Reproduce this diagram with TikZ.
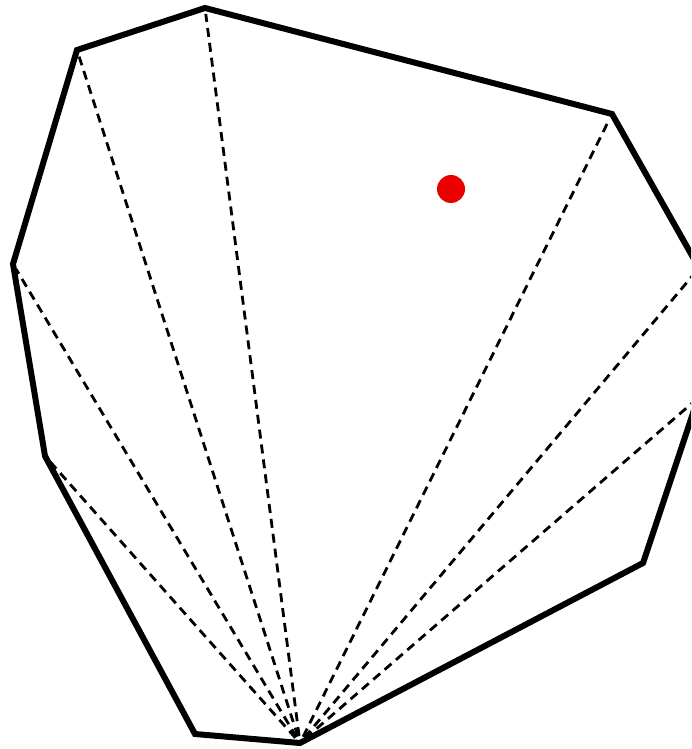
\documentclass[tikz,border=0pt]{standalone}
\definecolor{dotred}{RGB}{235,0,0}
\begin{document}
\begin{tikzpicture}[x=1pt,y=-1pt,
  hull/.style={line width=6pt,line join=miter,black},
  diag/.style={line width=2.8pt,dash pattern=on 9pt off 6pt,shorten <=7pt,shorten >=6pt},
  dot/.style={circle,fill=dotred,minimum size=28pt,inner sep=0pt}]
\useasboundingbox (0,0) rectangle (691,749);
\clip (0,0) rectangle (691,749);
\coordinate (A) at (300,743);
\coordinate (B) at (195,734);
\coordinate (C) at (45,456);
\coordinate (D) at (13,264);
\coordinate (E) at (77,50);
\coordinate (F) at (205,8);
\coordinate (G) at (612,114);
\coordinate (H) at (699,268);
\coordinate (I) at (698,398);
\coordinate (J) at (643,563);
\foreach \v in {C,D,E,F,G,H,I}
  \draw[diag] (A) -- (\v);
\draw[hull] (A) -- (B) -- (C) -- (D) -- (E) -- (F) -- (G) -- (H) -- (I) -- (J) -- cycle;
\node[dot] (p) at (451,189) {};
\end{tikzpicture}
\end{document}
